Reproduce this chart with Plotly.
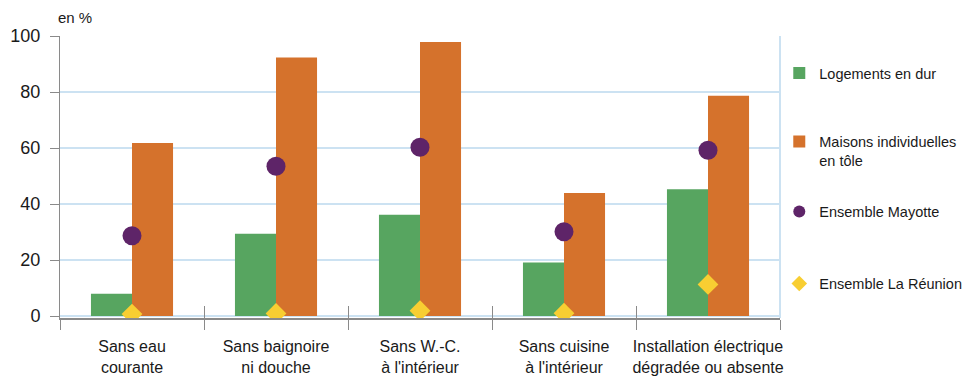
import plotly.graph_objects as go

categories = ["Sans eau<br>courante", "Sans baignoire<br>ni douche", "Sans W.-C.<br>à l'intérieur",
              "Sans cuisine<br>à l'intérieur", "Installation électrique<br>dégradée ou absente"]
logements_dur = [8.0, 29.4, 36.2, 19.1, 45.3]
maisons_tole = [61.8, 92.3, 97.9, 43.9, 78.7]
ens_mayotte = [28.7, 53.5, 60.3, 30.1, 59.2]
ens_reunion = [0.7, 0.9, 1.9, 1.0, 11.3]

FONT = "Liberation Sans, Arial, sans-serif"
GRID = "#CCE2F2"
AXIS = "#8A8A8A"

fig = go.Figure()
fig.add_trace(go.Bar(x=categories, y=logements_dur, name="Logements en dur",
                     marker=dict(color="#57A560", line=dict(width=0)), legend="legend"))
fig.add_trace(go.Bar(x=categories, y=maisons_tole, name="Maisons individuelles<br>en tôle",
                     marker=dict(color="#D5722C", line=dict(width=0)), legend="legend2"))
fig.add_trace(go.Scatter(x=categories, y=ens_mayotte, mode="markers", name="Ensemble Mayotte",
                         marker=dict(symbol="circle", size=19, color="#5E2468"), legend="legend3"))
fig.add_trace(go.Scatter(x=categories, y=ens_reunion, mode="markers", name="Ensemble La Réunion",
                         marker=dict(symbol="diamond", size=16, color="#F8CE32"), legend="legend4"))
# invisible helper trace so the overlay axis knows the categories (inner tick marks)
fig.add_trace(go.Scatter(x=categories, y=[None] * len(categories), xaxis="x2", mode="markers",
                         showlegend=False, hoverinfo="skip"))

leg_common = dict(x=0.999, xanchor="left", yanchor="top", font=dict(family=FONT, size=14.5, color="#1a1a1a"),
                  bgcolor="rgba(0,0,0,0)", itemsizing="constant", valign="top")

fig.update_layout(
    width=967, height=378,
    margin=dict(l=60, r=187, t=36, b=60, autoexpand=False),
    paper_bgcolor="white", plot_bgcolor="white",
    barmode="group", bargap=0.43, bargroupgap=0,
    showlegend=True,
    font=dict(family=FONT, color="#1a1a1a"),
    legend=dict(y=0.925, **leg_common),
    legend2=dict(y=0.682, **leg_common),
    legend3=dict(y=0.434, **leg_common),
    legend4=dict(y=0.179, **leg_common),
    xaxis=dict(showgrid=False, showline=True, linecolor=AXIS, linewidth=2, automargin=False,
               ticks="outside", tickson="boundaries", ticklen=10, tickcolor=AXIS, tickwidth=1,
               tickangle=0,
               tickfont=dict(family=FONT, size=16, color="#1a1a1a"), ticklabelstandoff=13),
    xaxis2=dict(overlaying="x", matches="x", anchor="y", side="bottom", showgrid=False, showline=False,
                ticks="inside", tickson="boundaries", ticklen=12, tickcolor=AXIS, tickwidth=1,
                showticklabels=False, automargin=False),
    yaxis=dict(range=[-0.7, 100], tickvals=[0, 20, 40, 60, 80, 100], showgrid=True, gridcolor=GRID, gridwidth=2,
               zeroline=False, showline=True, linecolor=AXIS, linewidth=1, automargin=False,
               ticks="outside", ticklen=9, tickcolor=AXIS,
               tickfont=dict(family=FONT, size=18, color="#1a1a1a"), ticklabelstandoff=6),
    annotations=[dict(text="en %", xref="paper", yref="paper", x=-0.005, y=1.03, xanchor="left",
                      yanchor="bottom", showarrow=False, font=dict(family=FONT, size=15, color="#1a1a1a"))],
    shapes=[dict(type="line", xref="paper", yref="paper", x0=1, x1=1, y0=0, y1=1,
                 line=dict(color=GRID, width=2)),
            dict(type="line", xref="paper", yref="y", x0=0, x1=1, y0=0, y1=0,
                 line=dict(color=GRID, width=2), layer="below")],
)

fig.write_html("out.html")
